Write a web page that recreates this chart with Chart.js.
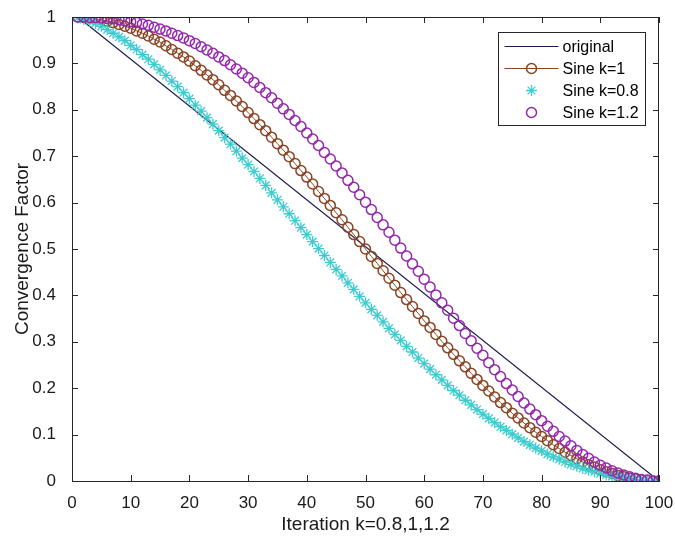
<!DOCTYPE html>
<html lang="en">
<head>
  <meta charset="UTF-8">
  <title>Convergence Factor</title>
  <script src="https://cdn.jsdelivr.net/npm/chart.js"></script>
  <style>
    body {
      margin: 0;
      background: #fff;
    }
    canvas {
      display: block;
    }
  </style>
</head>
<body>
  <canvas id="chartConv" width="675" height="538"></canvas>

  <script>
    // iteration index
    const iterations = [
      1, 2, 3, 4, 5, 6, 7, 8, 9, 10,
      11, 12, 13, 14, 15, 16, 17, 18, 19, 20,
      21, 22, 23, 24, 25, 26, 27, 28, 29, 30,
      31, 32, 33, 34, 35, 36, 37, 38, 39, 40,
      41, 42, 43, 44, 45, 46, 47, 48, 49, 50,
      51, 52, 53, 54, 55, 56, 57, 58, 59, 60,
      61, 62, 63, 64, 65, 66, 67, 68, 69, 70,
      71, 72, 73, 74, 75, 76, 77, 78, 79, 80,
      81, 82, 83, 84, 85, 86, 87, 88, 89, 90,
      91, 92, 93, 94, 95, 96, 97, 98, 99, 100
    ];

    // straight line, only the two ends
    const originalX = [1, 100];
    const originalY = [1, 0];

    const sineK1 = [
      1.000, 0.999, 0.998, 0.996, 0.994, 0.991, 0.988, 0.984, 0.980, 0.976,
      0.970, 0.965, 0.959, 0.952, 0.946, 0.938, 0.930, 0.922, 0.914, 0.905,
      0.895, 0.885, 0.875, 0.865, 0.854, 0.842, 0.831, 0.819, 0.807, 0.794,
      0.781, 0.768, 0.755, 0.741, 0.727, 0.713, 0.699, 0.684, 0.669, 0.655,
      0.640, 0.624, 0.609, 0.594, 0.578, 0.563, 0.547, 0.531, 0.516, 0.500,
      0.484, 0.469, 0.453, 0.437, 0.422, 0.406, 0.391, 0.376, 0.361, 0.345,
      0.331, 0.316, 0.301, 0.287, 0.273, 0.259, 0.246, 0.232, 0.219, 0.206,
      0.194, 0.181, 0.169, 0.158, 0.146, 0.136, 0.125, 0.115, 0.105, 0.096,
      0.087, 0.078, 0.070, 0.062, 0.055, 0.048, 0.041, 0.035, 0.030, 0.024,
      0.020, 0.016, 0.012, 0.009, 0.006, 0.004, 0.002, 0.001, 0.000, 0.000
    ];

    const sineK08 = [
      0.998, 0.995, 0.991, 0.986, 0.980, 0.973, 0.965, 0.957, 0.949, 0.939,
      0.930, 0.919, 0.909, 0.898, 0.886, 0.874, 0.862, 0.850, 0.837, 0.824,
      0.810, 0.797, 0.783, 0.769, 0.755, 0.740, 0.726, 0.711, 0.696, 0.682,
      0.667, 0.652, 0.637, 0.621, 0.606, 0.591, 0.576, 0.561, 0.546, 0.531,
      0.516, 0.501, 0.486, 0.471, 0.456, 0.442, 0.427, 0.413, 0.398, 0.384,
      0.370, 0.357, 0.343, 0.329, 0.316, 0.303, 0.290, 0.278, 0.265, 0.253,
      0.241, 0.229, 0.218, 0.206, 0.195, 0.185, 0.174, 0.164, 0.154, 0.144,
      0.135, 0.126, 0.117, 0.109, 0.101, 0.093, 0.085, 0.078, 0.071, 0.065,
      0.058, 0.052, 0.047, 0.041, 0.036, 0.032, 0.027, 0.023, 0.020, 0.016,
      0.013, 0.010, 0.008, 0.006, 0.004, 0.003, 0.002, 0.001, 0.000, 0.000
    ];

    const sineK12 = [
      1.000, 1.000, 0.999, 0.999, 0.998, 0.997, 0.996, 0.994, 0.992, 0.990,
      0.988, 0.985, 0.982, 0.978, 0.974, 0.970, 0.965, 0.960, 0.955, 0.949,
      0.943, 0.936, 0.929, 0.922, 0.914, 0.906, 0.897, 0.888, 0.879, 0.869,
      0.859, 0.848, 0.837, 0.826, 0.814, 0.802, 0.790, 0.777, 0.764, 0.750,
      0.737, 0.723, 0.708, 0.694, 0.679, 0.664, 0.648, 0.633, 0.617, 0.601,
      0.585, 0.568, 0.552, 0.536, 0.519, 0.502, 0.485, 0.468, 0.452, 0.435,
      0.418, 0.401, 0.384, 0.368, 0.351, 0.335, 0.318, 0.302, 0.286, 0.271,
      0.255, 0.240, 0.225, 0.210, 0.196, 0.182, 0.168, 0.155, 0.143, 0.130,
      0.118, 0.107, 0.096, 0.086, 0.076, 0.066, 0.057, 0.049, 0.041, 0.034,
      0.028, 0.022, 0.017, 0.013, 0.009, 0.006, 0.003, 0.002, 0.000, 0.000
    ];

    const seriesNames = ['original', 'Sine k=1', 'Sine k=0.8', 'Sine k=1.2'];
    const xTitle = 'Iteration k=0.8,1,1.2';
    const yTitle = 'Convergence Factor';

    const FONT = "'Liberation Sans', Arial, sans-serif";
    const AXIS = '#262626';

    function toPoints(xs, ys) {
      return xs.map((x, i) => ({ x: x, y: ys[i] }));
    }

    // matlab-ish box: top/right border plus inward ticks on all four sides
    const boxPlugin = {
      id: 'box',
      afterDraw(chart) {
        const { ctx, chartArea: a, scales } = chart;
        const tl = 6;
        ctx.save();
        ctx.lineWidth = 1;
        ctx.strokeStyle = AXIS;
        ctx.beginPath();
        ctx.moveTo(a.left, a.top + 0.5);
        ctx.lineTo(a.right, a.top + 0.5);
        ctx.moveTo(a.right - 0.5, a.top);
        ctx.lineTo(a.right - 0.5, a.bottom);
        scales.x.ticks.forEach(t => {
          const px = Math.round(scales.x.getPixelForValue(t.value)) + 0.5;
          ctx.moveTo(px, a.bottom);
          ctx.lineTo(px, a.bottom - tl);
          ctx.moveTo(px, a.top);
          ctx.lineTo(px, a.top + tl);
        });
        scales.y.ticks.forEach(t => {
          const py = Math.round(scales.y.getPixelForValue(t.value)) + 0.5;
          ctx.moveTo(a.left, py);
          ctx.lineTo(a.left + tl, py);
          ctx.moveTo(a.right, py);
          ctx.lineTo(a.right - tl, py);
        });
        ctx.stroke();
        ctx.restore();
      }
    };

    // legend box inside the axes, top right
    const legendPlugin = {
      id: 'boxLegend',
      afterDraw(chart) {
        const { ctx, chartArea: a } = chart;
        const w = 147, h = 93;
        const x0 = Math.round(a.right - 14 - w) + 0.5;
        const y0 = Math.round(a.top + 15) + 0.5;
        const rowH = 22;
        ctx.save();
        ctx.fillStyle = '#fff';
        ctx.fillRect(x0, y0, w, h);
        ctx.strokeStyle = AXIS;
        ctx.lineWidth = 1;
        ctx.strokeRect(x0, y0, w, h);
        ctx.font = '16px ' + FONT;
        ctx.textBaseline = 'middle';
        chart.data.datasets.forEach((ds, i) => {
          const cy = y0 + 14 + i * rowH;
          const lx1 = x0 + 6, lx2 = x0 + 60, mx = (lx1 + lx2) / 2;
          if (ds.showLine) {
            ctx.strokeStyle = ds.borderColor;
            ctx.lineWidth = ds.borderWidth;
            ctx.beginPath();
            ctx.moveTo(lx1, cy);
            ctx.lineTo(lx2, cy);
            ctx.stroke();
          }
          if (ds.pointRadius > 0) {
            ctx.strokeStyle = ds.pointBorderColor;
            ctx.fillStyle = 'rgba(0,0,0,0)';
            ctx.lineWidth = ds.pointBorderWidth;
            Chart.helpers.drawPoint(ctx, {
              pointStyle: ds.pointStyle,
              radius: ds.pointRadius,
              borderWidth: ds.pointBorderWidth,
              rotation: 0
            }, mx, cy);
          }
          ctx.fillStyle = '#000';
          ctx.fillText(ds.label, x0 + 64, cy + 1);
        });
        ctx.restore();
      }
    };

    new Chart(document.getElementById('chartConv'), {
      type: 'scatter',
      data: {
        datasets: [{
          label: seriesNames[0],
          data: toPoints(originalX, originalY),
          showLine: true,
          borderColor: '#1c1c50',
          borderWidth: 1.2,
          pointRadius: 0,
          order: 4
        }, {
          label: seriesNames[1],
          data: toPoints(iterations, sineK1),
          showLine: true,
          borderColor: '#8a4424',
          borderWidth: 1,
          pointStyle: 'circle',
          pointRadius: 5,
          pointBorderWidth: 1.5,
          pointBorderColor: '#8a4424',
          pointBackgroundColor: 'rgba(0,0,0,0)',
          order: 3
        }, {
          label: seriesNames[2],
          data: toPoints(iterations, sineK08),
          showLine: false,
          borderColor: '#3ccbcf',
          pointStyle: 'star',
          pointRadius: 5.5,
          pointBorderWidth: 1.3,
          pointBorderColor: '#3ccbcf',
          pointBackgroundColor: 'rgba(0,0,0,0)',
          order: 2
        }, {
          label: seriesNames[3],
          data: toPoints(iterations, sineK12),
          showLine: false,
          borderColor: '#9428ad',
          pointStyle: 'circle',
          pointRadius: 5,
          pointBorderWidth: 1.5,
          pointBorderColor: '#9428ad',
          pointBackgroundColor: 'rgba(0,0,0,0)',
          order: 1
        }]
      },
      options: {
        responsive: false,
        animation: false,
        layout: { padding: { left: 0, top: 17, right: 16, bottom: 0 } },
        plugins: {
          legend: { display: false },
          tooltip: { enabled: false }
        },
        scales: {
          x: {
            type: 'linear',
            min: 0,
            max: 100,
            afterFit: s => { s.height = 57; s.paddingLeft = 0; s.paddingRight = 0; },
            grid: { display: false },
            border: { display: true, color: AXIS, width: 1 },
            ticks: { stepSize: 10, color: '#1a1a1a', padding: 4, font: { family: FONT, size: 17 }, maxRotation: 0 },
            title: { display: true, text: xTitle, color: '#1a1a1a', font: { family: FONT, size: 19 }, padding: { top: 0, bottom: 2 } }
          },
          y: {
            type: 'linear',
            min: 0,
            max: 1,
            afterFit: s => { s.width = 72; s.paddingTop = 0; s.paddingBottom = 0; },
            grid: { display: false },
            border: { display: true, color: AXIS, width: 1 },
            ticks: {
              stepSize: 0.1, color: '#1a1a1a', padding: 8, font: { family: FONT, size: 17 },
              callback: v => String(+v.toFixed(1))
            },
            title: { display: true, text: yTitle, color: '#1a1a1a', font: { family: FONT, size: 19 }, padding: { top: 11, bottom: 0 } }
          }
        }
      },
      plugins: [boxPlugin, legendPlugin]
    });
  </script>
</body>
</html>
